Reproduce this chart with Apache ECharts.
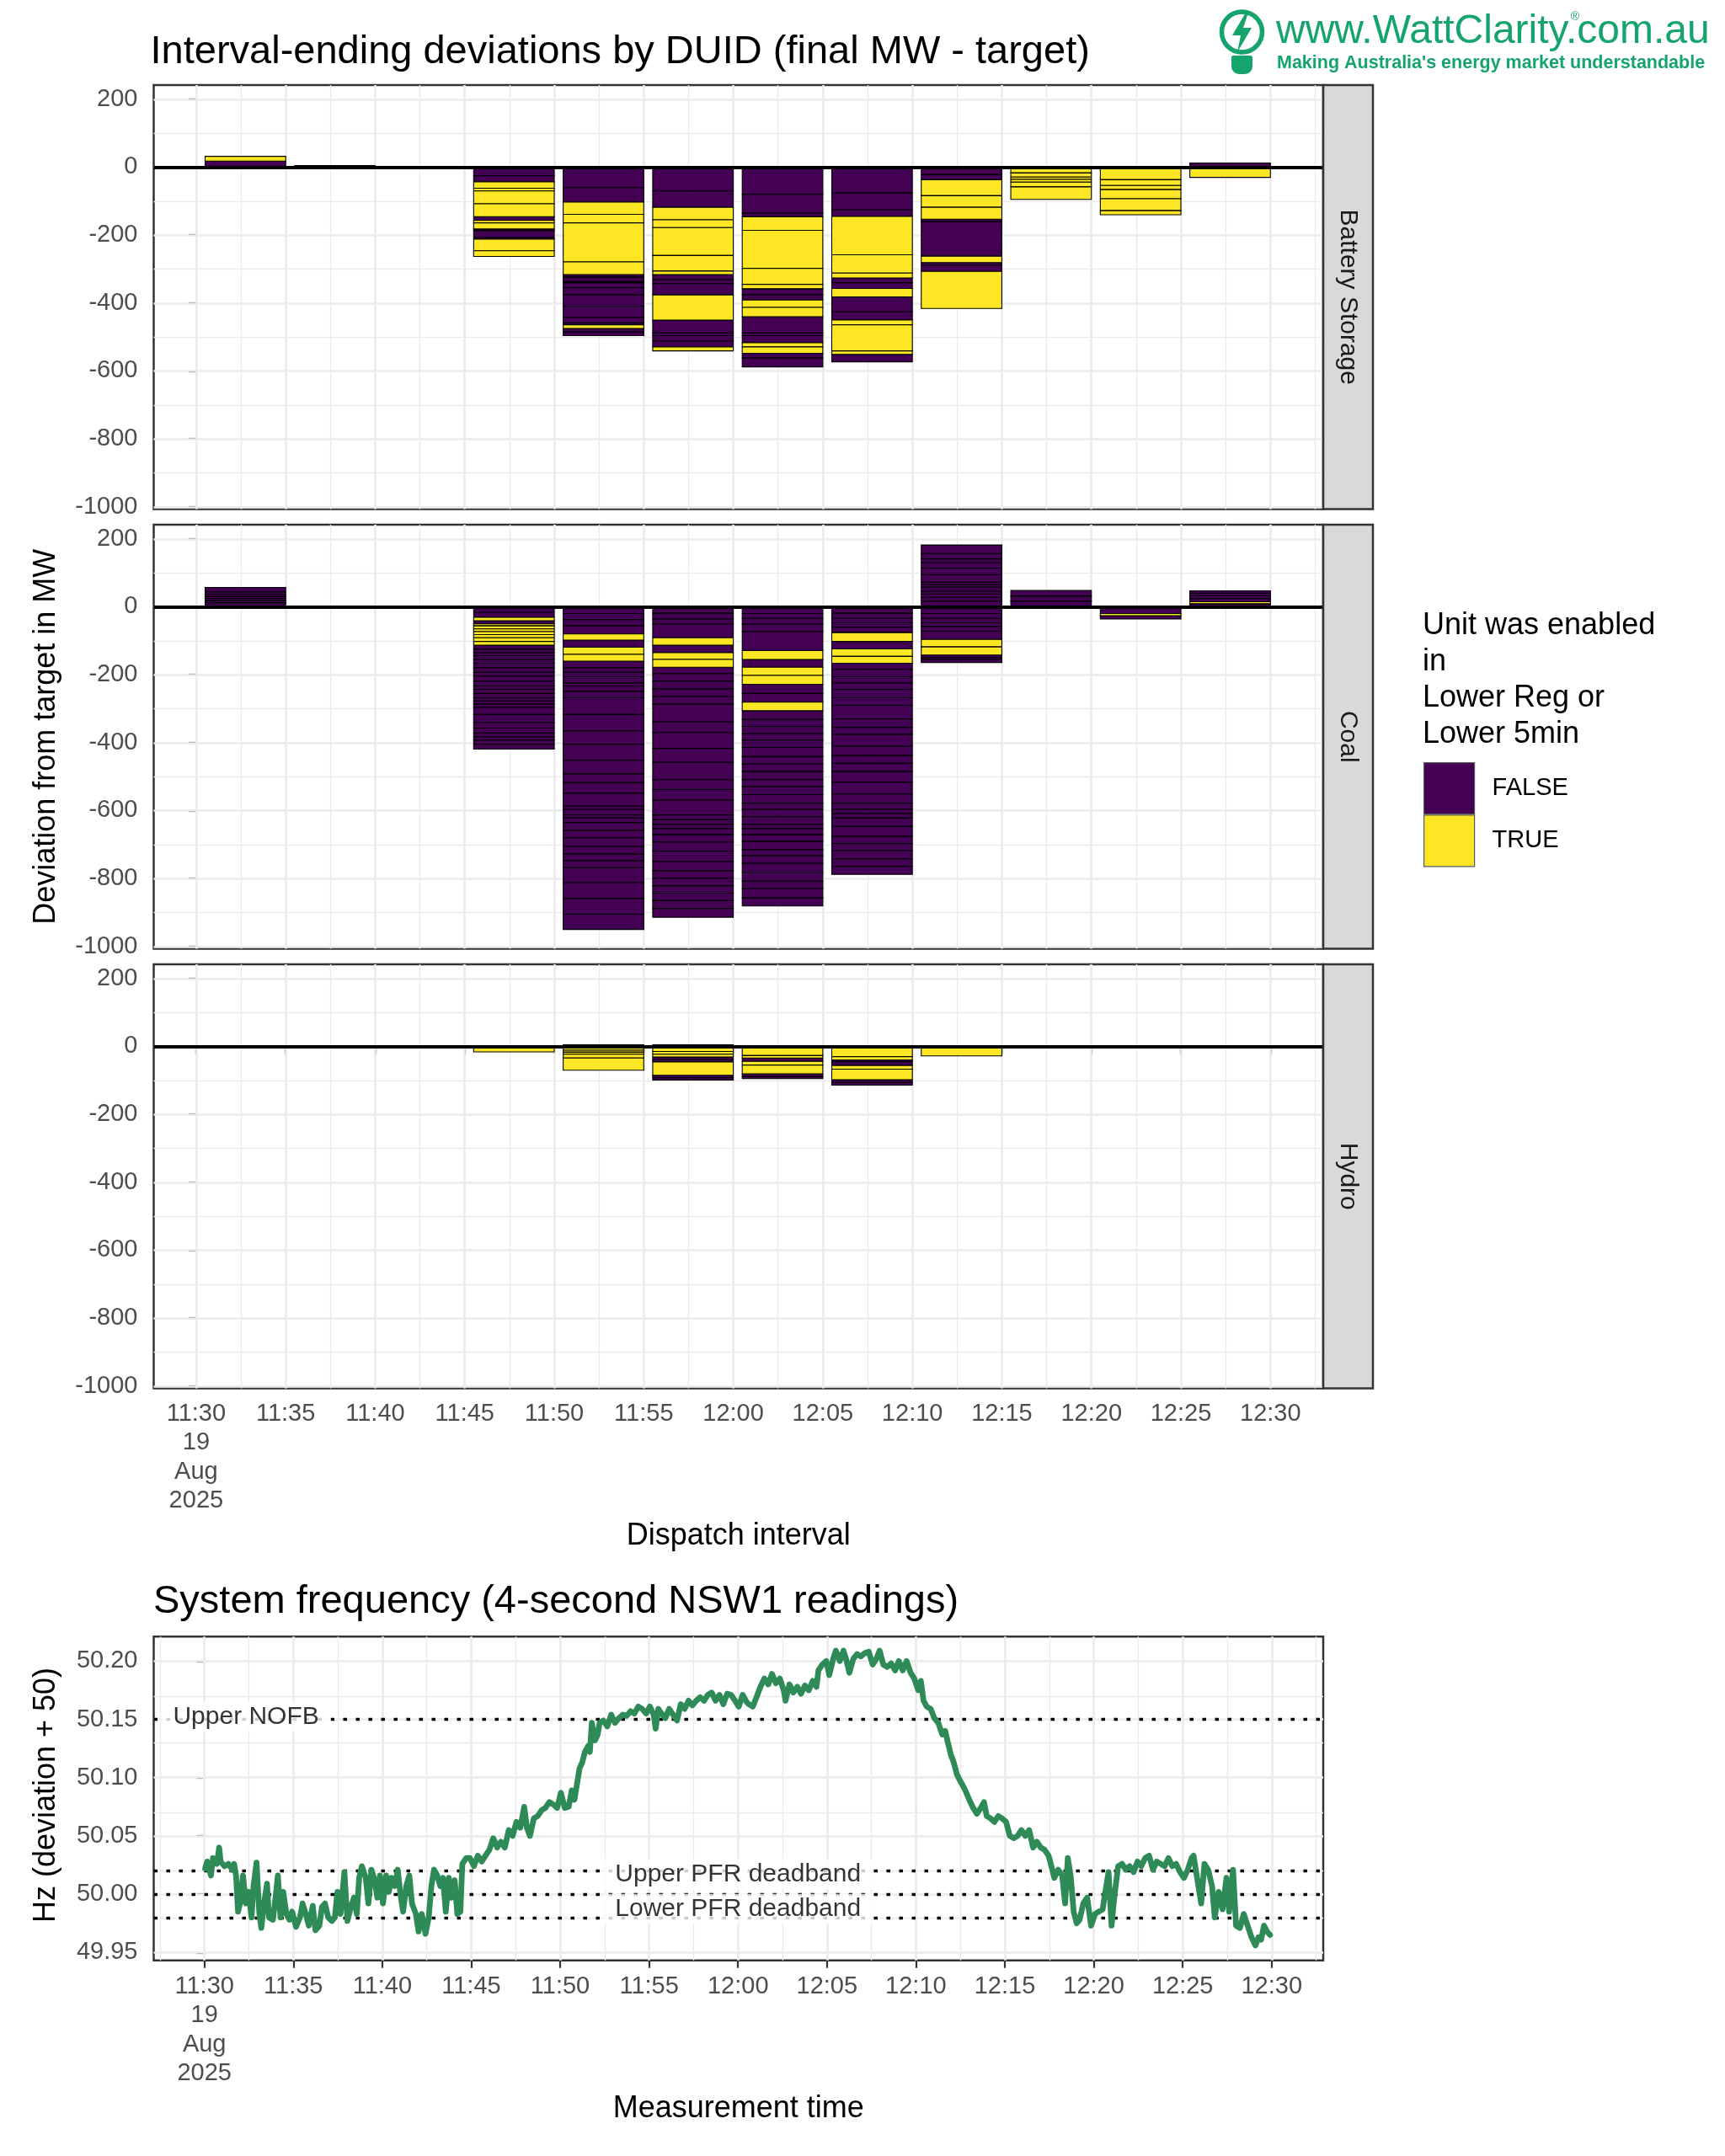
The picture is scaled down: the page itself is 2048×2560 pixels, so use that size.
<!DOCTYPE html>
<html><head><meta charset="utf-8">
<script src="https://cdn.jsdelivr.net/npm/echarts@6/dist/echarts.min.js"></script>
<style>html,body{margin:0;padding:0;background:#fff}#c{width:2048px;height:2560px}</style>
</head><body><div id="c"></div>
<script>
// ---------------- DATA ----------------
// dispatch intervals (minutes after 11:30)
const intervalStarts = [0, 5, 10, 15, 20, 25, 30, 35, 40, 45, 50, 55];
const intervalLabels = ['11:30','11:35','11:40','11:45','11:50','11:55','12:00','12:05','12:10','12:15','12:20','12:25'];
// per-DUID deviations (MW) per interval, [value, enabledFlag] (1 = TRUE, 0 = FALSE), listed outward from zero
const batterySegments = [
  [[18,0],[14,1]],
  [[5,0]],
  [[-4,0]],
  [[-25,0],[-18,0],[-19,1],[-8,1],[-38,1],[-38,1],[-11,0],[-7,1],[-18,1],[-5,0],[-20,0],[-5,0],[-34,1],[-17,1]],
  [[-60,0],[-43,0],[-36,1],[-25,1],[-115,1],[-37,1],[-8,0],[-13,0],[-3,1],[-15,0],[-21,0],[-33,0],[-33,0],[-17,0],[-5,0],[-11,1],[-10,0],[-11,0]],
  [[-70,0],[-48,0],[-37,1],[-23,1],[-82,1],[-46,1],[-10,1],[-15,0],[-12,0],[-33,0],[-74,1],[-38,0],[-8,0],[-16,0],[-17,0],[-12,1]],
  [[-80,0],[-55,0],[-11,0],[-40,1],[-112,1],[-47,1],[-13,1],[-18,0],[-15,0],[-22,1],[-27,1],[-48,0],[-8,0],[-21,0],[-12,1],[-19,1],[-14,0],[-26,0]],
  [[-76,0],[-50,0],[-19,0],[-113,1],[-54,1],[-14,1],[-14,0],[-17,0],[-25,1],[-44,0],[-24,0],[-14,1],[-77,1],[-10,1],[-22,0]],
  [[-22,0],[-15,0],[-47,1],[-34,1],[-35,1],[-8,0],[-101,0],[-19,1],[-8,0],[-18,0],[-109,1]],
  [[-17,1],[-12,1],[-7,1],[-8,1],[-14,1],[-37,1]],
  [[-37,1],[-17,1],[-12,1],[-27,1],[-35,1],[-12,1]],
  [[12,0],[-30,1]]
];
const coalSegments = [
  [[12,0],[7,0],[6,0],[6,0],[6,0],[7,0],[13,0]],
  [],
  [],
  [[-16,0],[-15,0],[-10,1],[-9,0],[-6,1],[-9,1],[-8,1],[-9,1],[-9,1],[-11,1],[-11,1],[-12,0],[-10,0],[-9,0],[-11,0],[-11,0],[-14,0],[-13,0],[-11,0],[-15,0],[-14,0],[-10,0],[-12,0],[-13,0],[-9,0],[-9,0],[-10,0],[-21,0],[-24,0],[-16,0],[-15,0],[-11,0],[-9,0],[-13,0],[-14,0]],
  [[-20,0],[-18,0],[-18,0],[-24,0],[-18,1],[-21,0],[-21,1],[-20,1],[-20,0],[-13,0],[-13,0],[-18,0],[-9,0],[-16,0],[-19,0],[-49,0],[-48,0],[-40,0],[-47,0],[-40,0],[-26,0],[-31,0],[-38,0],[-10,0],[-16,0],[-9,0],[-13,0],[-23,0],[-22,0],[-26,0],[-22,0],[-20,0],[-20,0],[-44,0],[-47,0],[-46,0],[-45,0]],
  [[-19,0],[-17,0],[-15,0],[-40,0],[-22,1],[-22,0],[-20,1],[-23,1],[-19,0],[-22,0],[-23,0],[-22,0],[-22,0],[-53,0],[-31,0],[-47,0],[-41,0],[-51,0],[-29,0],[-31,0],[-44,0],[-14,0],[-13,0],[-13,0],[-18,0],[-22,0],[-26,0],[-31,0],[-27,0],[-22,0],[-22,0],[-22,0],[-22,0],[-23,0],[-26,0]],
  [[-20,0],[-14,0],[-17,0],[-22,0],[-56,0],[-26,1],[-23,0],[-24,1],[-26,1],[-27,0],[-26,0],[-25,1],[-26,0],[-20,0],[-22,0],[-18,0],[-22,0],[-27,0],[-22,0],[-22,0],[-24,0],[-20,0],[-24,0],[-25,0],[-18,0],[-22,0],[-22,0],[-13,0],[-18,0],[-20,0],[-24,0],[-18,0],[-22,0],[-26,0],[-27,0],[-22,0],[-27,0],[-24,0]],
  [[-19,0],[-15,0],[-13,0],[-13,0],[-16,0],[-26,1],[-22,0],[-22,1],[-20,1],[-18,0],[-22,0],[-18,0],[-19,0],[-25,0],[-22,0],[-40,0],[-25,0],[-21,0],[-34,0],[-28,0],[-23,0],[-24,0],[-31,0],[-35,0],[-27,0],[-18,0],[-13,0],[-13,0],[-25,0],[-29,0],[-21,0],[-21,0],[-24,0],[-22,0],[-24,0]],
  [[17,0],[11,0],[9,0],[9,0],[12,0],[7,0],[8,0],[22,0],[19,0],[16,0],[11,0],[16,0],[25,0],
   [-20,0],[-14,0],[-13,0],[-11,0],[-14,0],[-24,0],[-22,1],[-24,1],[-7,0],[-6,0],[-9,0]],
  [[17,0],[15,0],[16,0]],
  [[-20,0],[-6,1],[-10,0]],
  [[9,0],[6,1],[9,0],[9,0],[7,0],[7,0]]
];
const hydroSegments = [
  [],
  [],
  [],
  [[-5,0],[-11,1]],
  [[5,0],[-11,1],[-6,1],[-6,1],[-11,1],[-36,1]],
  [[5,0],[-15,1],[-8,1],[-8,1],[-8,0],[-7,0],[-39,1],[-7,0],[-7,0]],
  [[-27,1],[-7,1],[-10,0],[-11,1],[-26,1],[-8,0],[-6,0]],
  [[-30,1],[-10,1],[-6,0],[-10,0],[-11,1],[-31,1],[-8,0],[-8,0]],
  [[-28,1]],
  [],
  [],
  []
];
const panelNames = ['Battery Storage', 'Coal', 'Hydro'];
const legendNames = ['FALSE', 'TRUE'];

// axis ticks
const xTickMinutes = [0, 5, 10, 15, 20, 25, 30, 35, 40, 45, 50, 55, 60];
const xTickLabels = ['11:30\n19\nAug\n2025','11:35','11:40','11:45','11:50','11:55','12:00','12:05','12:10','12:15','12:20','12:25','12:30'];
const mwTicks = [200, 0, -200, -400, -600, -800, -1000];
const hzTicks = [49.95, 50.00, 50.05, 50.10, 50.15, 50.20];

// reference frequency lines
const refLineValues = [50.15, 50.015, 50.00, 49.985];
const refLineNames = ['Upper NOFB', 'Upper PFR deadband', '', 'Lower PFR deadband'];

// NSW1 frequency readings [minutes after 11:30, Hz]
const freqReadings = [
[0.04,50.022],[0.15,50.028],[0.37,50.016],[0.48,50.031],[0.70,50.026],[0.83,50.040],[0.91,50.028],[1.13,50.024],[1.35,50.026],[1.57,50.021],
[1.67,50.026],[1.78,50.016],[1.89,49.985],[2.00,49.992],[2.17,50.016],[2.33,49.992],[2.48,50.002],[2.65,49.980],[2.76,50.007],[2.93,50.027],
[3.09,49.983],[3.20,49.971],[3.35,49.992],[3.52,50.009],[3.63,49.980],[3.85,49.978],[4.00,49.997],[4.13,50.016],[4.28,49.980],[4.43,50.002],
[4.61,49.983],[4.78,49.978],[4.93,49.985],[5.15,49.972],[5.37,49.980],[5.52,49.992],[5.70,49.983],[5.87,49.973],[6.09,49.990],[6.24,49.969],
[6.46,49.973],[6.61,49.989],[6.78,49.992],[6.96,49.980],[7.17,49.977],[7.33,49.980],[7.48,50.002],[7.65,49.983],[7.87,50.019],[8.04,49.977],
[8.20,49.987],[8.41,49.997],[8.57,49.983],[8.70,50.014],[8.85,50.024],[9.07,50.014],[9.22,49.992],[9.39,50.021],[9.57,50.012],[9.72,49.997],
[9.87,50.016],[10.04,49.992],[10.22,50.016],[10.37,50.002],[10.52,50.014],[10.70,50.007],[10.87,50.021],[11.02,50.000],[11.17,49.985],[11.35,50.007],
[11.52,50.016],[11.67,49.992],[11.89,49.983],[12.04,49.968],[12.22,49.983],[12.43,49.966],[12.61,49.980],[12.76,50.007],[12.91,50.021],[13.09,50.016],
[13.26,50.007],[13.41,50.014],[13.57,49.985],[13.74,50.014],[13.89,49.997],[14.07,50.012],[14.22,49.983],[14.39,49.985],[14.50,50.026],[14.72,50.031],
[14.93,50.031],[15.15,50.024],[15.37,50.033],[15.59,50.028],[15.80,50.033],[16.02,50.038],[16.24,50.048],[16.46,50.040],[16.67,50.045],[16.89,50.040],
[17.11,50.055],[17.33,50.050],[17.54,50.062],[17.76,50.057],[17.98,50.075],[18.13,50.057],[18.30,50.050],[18.52,50.065],[18.74,50.067],[18.96,50.072],
[19.17,50.074],[19.39,50.079],[19.61,50.077],[19.83,50.074],[20.04,50.087],[20.26,50.074],[20.48,50.075],[20.65,50.089],[20.80,50.081],[20.91,50.091],
[21.09,50.108],[21.24,50.113],[21.39,50.122],[21.57,50.127],[21.67,50.122],[21.78,50.147],[21.96,50.132],[22.11,50.137],[22.22,50.147],[22.43,50.149],
[22.65,50.144],[22.87,50.154],[23.09,50.147],[23.30,50.151],[23.52,50.154],[23.74,50.153],[23.96,50.157],[24.17,50.155],[24.39,50.161],[24.61,50.159],
[24.83,50.155],[25.04,50.161],[25.26,50.154],[25.37,50.142],[25.52,50.159],[25.70,50.155],[25.91,50.151],[26.13,50.159],[26.35,50.154],[26.57,50.149],
[26.78,50.163],[27.00,50.159],[27.22,50.166],[27.43,50.162],[27.65,50.166],[27.87,50.169],[28.09,50.166],[28.30,50.171],[28.52,50.173],[28.74,50.166],
[28.96,50.171],[29.17,50.163],[29.39,50.172],[29.61,50.171],[29.83,50.166],[30.04,50.161],[30.26,50.171],[30.48,50.165],[30.61,50.163],[30.83,50.161],
[31.04,50.169],[31.26,50.178],[31.48,50.185],[31.70,50.180],[31.91,50.189],[32.13,50.181],[32.35,50.185],[32.57,50.175],[32.67,50.166],[32.89,50.180],
[33.11,50.173],[33.33,50.178],[33.54,50.172],[33.76,50.179],[33.98,50.175],[34.20,50.183],[34.41,50.178],[34.52,50.192],[34.74,50.197],[34.96,50.200],
[35.13,50.188],[35.35,50.202],[35.50,50.209],[35.72,50.200],[35.93,50.209],[36.09,50.201],[36.26,50.190],[36.48,50.202],[36.70,50.206],[36.91,50.204],
[37.13,50.207],[37.35,50.208],[37.57,50.197],[37.78,50.202],[37.96,50.209],[38.17,50.197],[38.39,50.195],[38.61,50.198],[38.83,50.192],[39.04,50.200],
[39.26,50.192],[39.48,50.200],[39.70,50.190],[39.91,50.185],[40.13,50.175],[40.28,50.183],[40.43,50.166],[40.61,50.161],[40.83,50.159],[41.04,50.151],
[41.26,50.147],[41.48,50.137],[41.65,50.140],[41.80,50.130],[41.96,50.120],[42.13,50.113],[42.30,50.103],[42.46,50.098],[42.61,50.094],[42.78,50.089],
[43.00,50.081],[43.22,50.074],[43.43,50.069],[43.65,50.074],[43.83,50.079],[43.98,50.067],[44.20,50.065],[44.41,50.062],[44.63,50.067],[44.85,50.065],
[45.07,50.062],[45.28,50.050],[45.50,50.048],[45.72,50.050],[45.93,50.055],[46.15,50.050],[46.37,50.055],[46.59,50.040],[46.80,50.045],[47.02,50.040],
[47.24,50.038],[47.46,50.033],[47.67,50.021],[47.78,50.014],[48.00,50.021],[48.22,50.016],[48.39,49.992],[48.54,50.031],[48.70,50.016],[48.87,49.985],
[49.04,49.975],[49.20,49.978],[49.41,49.992],[49.63,49.997],[49.85,49.973],[50.07,49.983],[50.28,49.985],[50.50,49.987],[50.65,50.002],[50.83,50.019],
[51.00,49.973],[51.15,49.997],[51.37,50.024],[51.59,50.026],[51.80,50.021],[52.02,50.024],[52.24,50.019],[52.46,50.028],[52.67,50.024],[52.89,50.031],
[53.11,50.033],[53.33,50.021],[53.54,50.028],[53.76,50.026],[53.98,50.024],[54.20,50.031],[54.41,50.024],[54.63,50.026],[54.85,50.019],[55.07,50.014],
[55.28,50.021],[55.50,50.031],[55.61,50.033],[55.83,50.012],[56.04,49.992],[56.22,50.026],[56.43,50.021],[56.65,50.007],[56.80,49.980],[57.02,50.002],
[57.24,49.987],[57.46,50.014],[57.61,49.985],[57.83,50.021],[58.00,49.973],[58.22,49.971],[58.43,49.983],[58.65,49.973],[58.87,49.963],[59.09,49.956],
[59.26,49.963],[59.41,49.961],[59.57,49.973],[59.74,49.968],[59.91,49.965]
];

// ---------------- LAYOUT / STYLE ----------------
const FONT = "'Liberation Sans', Arial, sans-serif";
const FALSE_COLOR = '#440154', TRUE_COLOR = '#FDE725';
const LINE_GREEN = '#2E8B57', LOGO_GREEN = '#14A46C';
const GRID_COL = '#EBEBEB';
const PLOT_L = 182.5, PLOT_W = 1388.5;
const PANEL_TOPS = [101, 623, 1145], PANEL_H = 503.5;
const FREQ_TOP = 1943.3, FREQ_H = 384.4;
const STRIP_W = 59;
const BAR_CENTER_OFFSET = 2.75, BAR_WIDTH = 4.5;
const DEV_MIN = -1006.75, DEV_MAX = 241.75;
const X_MIN = -2.37, X_MAX = 62.95;
const FX_MIN = -2.85, FX_MAX = 62.9;
const HZ_MIN = 49.9432, HZ_MAX = 50.221;

function stackRects(segs) {
  const out = { F: [], T: [] };
  segs.forEach((list, i) => {
    let pos = 0, neg = 0;
    const c = intervalStarts[i] + BAR_CENTER_OFFSET;
    list.forEach(([v, f]) => {
      let y0, y1;
      if (v >= 0) { y0 = pos; y1 = pos + v; pos = y1; }
      else { y0 = neg; y1 = neg + v; neg = y1; }
      (f ? out.T : out.F).push([c, y0, y1]);
    });
  });
  return out;
}
function makeRender(color) {
  return function (params, api) {
    const c = api.value(0), y0 = api.value(1), y1 = api.value(2);
    const a = api.coord([c - BAR_WIDTH / 2, y0]);
    const b = api.coord([c + BAR_WIDTH / 2, y1]);
    return {
      type: 'rect',
      shape: { x: a[0], y: Math.min(a[1], b[1]), width: b[0] - a[0], height: Math.abs(b[1] - a[1]) },
      style: { fill: color, stroke: '#000', lineWidth: 1.1 }
    };
  };
}
function midpoints(arr, step) {
  const res = [];
  const s = arr.slice().sort((p, q) => p - q);
  res.push(s[0] - step / 2);
  s.forEach(v => res.push(v + step / 2));
  return res;
}
function gridLineData(xMajor, xMin, xMax, yMajor, yMinorStep, xMinorStep, yMin, yMax) {
  const d = [];
  const yMinor = midpoints(yMajor, yMinorStep).filter(v => v > yMin && v < yMax);
  const xMinor = midpoints(xMajor, xMinorStep).filter(v => v > xMin && v < xMax);
  yMinor.forEach(v => d.push({ yAxis: v, lineStyle: { color: GRID_COL, width: 1.4, type: 'solid' } }));
  xMinor.forEach(v => d.push({ xAxis: v, lineStyle: { color: GRID_COL, width: 1.4, type: 'solid' } }));
  yMajor.forEach(v => d.push({ yAxis: v, lineStyle: { color: GRID_COL, width: 2.7, type: 'solid' } }));
  xMajor.forEach(v => d.push({ xAxis: v, lineStyle: { color: GRID_COL, width: 2.7, type: 'solid' } }));
  return d;
}
const fmtX = v => { const i = xTickMinutes.findIndex(m => Math.abs(m - v) < 1e-6); return i >= 0 ? xTickLabels[i] : ''; };
const labelStyle = { fontSize: 29, color: '#4D4D4D', fontFamily: FONT };
const tickStyle = { length: 9, lineStyle: { color: '#333333', width: 2.2 } };

const grids = PANEL_TOPS.map(t => ({
  left: PLOT_L, top: t, width: PLOT_W, height: PANEL_H, show: true, backgroundColor: '#fff',
  borderColor: '#333333', borderWidth: 2.5, containLabel: false, outerBoundsMode: 'none'
}));
grids.push({ left: PLOT_L, top: FREQ_TOP, width: PLOT_W, height: FREQ_H, show: true, backgroundColor: '#fff',
  borderColor: '#333333', borderWidth: 2.5, containLabel: false, outerBoundsMode: 'none' });

const xAxes = [0, 1, 2].map(i => ({
  type: 'value', gridIndex: i, min: X_MIN, max: X_MAX,
  splitLine: { show: false }, axisLine: { show: false },
  axisTick: Object.assign({ show: i === 2, customValues: xTickMinutes }, tickStyle),
  axisLabel: Object.assign({ show: i === 2, customValues: xTickMinutes, formatter: fmtX, lineHeight: 34.5, margin: 13 }, labelStyle)
}));
xAxes.push({
  type: 'value', gridIndex: 3, min: FX_MIN, max: FX_MAX,
  splitLine: { show: false }, axisLine: { show: false },
  axisTick: Object.assign({ show: true, customValues: xTickMinutes }, tickStyle),
  axisLabel: Object.assign({ show: true, customValues: xTickMinutes, formatter: fmtX, lineHeight: 34.5, margin: 14 }, labelStyle)
});
const yAxes = [0, 1, 2].map(i => ({
  type: 'value', gridIndex: i, min: DEV_MIN, max: DEV_MAX,
  splitLine: { show: false }, axisLine: { show: false },
  axisTick: Object.assign({ show: true, customValues: mwTicks }, tickStyle),
  axisLabel: Object.assign({ show: true, customValues: mwTicks, formatter: v => String(Math.round(v)), margin: 19 }, labelStyle)
}));
yAxes.push({
  type: 'value', gridIndex: 3, min: HZ_MIN, max: HZ_MAX,
  splitLine: { show: false }, axisLine: { show: false },
  axisTick: Object.assign({ show: true, customValues: hzTicks }, tickStyle),
  axisLabel: Object.assign({ show: true, customValues: hzTicks, formatter: v => v.toFixed(2), margin: 19 }, labelStyle)
});

const series = [];
[batterySegments, coalSegments, hydroSegments].forEach((segs, gi) => {
  const r = stackRects(segs);
  series.push({
    type: 'custom', name: 'FALSE', xAxisIndex: gi, yAxisIndex: gi, z: 2,
    itemStyle: { color: FALSE_COLOR }, dimensions: ['x', 'y0', 'y1'], encode: { x: 'x', y: ['y0', 'y1'] },
    renderItem: makeRender(FALSE_COLOR), data: r.F, silent: true,
    markLine: { silent: true, z: 1, symbol: ['none', 'none'], animation: false, label: { show: false },
      emphasis: { disabled: true },
      data: gridLineData(xTickMinutes, X_MIN, X_MAX, mwTicks, 200, 5, DEV_MIN, DEV_MAX) }
  });
  series.push({
    type: 'custom', name: 'TRUE', xAxisIndex: gi, yAxisIndex: gi, z: 2,
    itemStyle: { color: TRUE_COLOR }, dimensions: ['x', 'y0', 'y1'], encode: { x: 'x', y: ['y0', 'y1'] },
    renderItem: makeRender(TRUE_COLOR), data: r.T, silent: true,
    markLine: { silent: true, z: 6, symbol: ['none', 'none'], animation: false, label: { show: false },
      emphasis: { disabled: true },
      data: [{ yAxis: 0, lineStyle: { color: '#000', width: 3.8, type: 'solid' } }] }
  });
});
const refMark = refLineValues.map(v => ({ yAxis: v, lineStyle: { color: '#000', width: 3.3, type: [4.5, 10.5] } }));
series.push({
  type: 'line', name: 'freq', xAxisIndex: 3, yAxisIndex: 3, z: 3, data: freqReadings,
  showSymbol: false, symbol: 'none', clip: false, silent: true,
  lineStyle: { color: LINE_GREEN, width: 6.8, join: 'round', cap: 'round' },
  markLine: { silent: true, z: 1, symbol: ['none', 'none'], animation: false, label: { show: false },
    emphasis: { disabled: true },
    data: gridLineData(xTickMinutes, FX_MIN, FX_MAX, hzTicks, 0.05, 5, HZ_MIN, HZ_MAX).concat(refMark) }
});
const refLabelX = [2.34, 30, null, 30];
series.push({
  type: 'scatter', name: 'refLabels', xAxisIndex: 3, yAxisIndex: 3, z: 5, silent: true,
  symbol: 'rect', symbolSize: 1, itemStyle: { color: 'rgba(0,0,0,0)' },
  label: { show: true, position: 'inside', formatter: '{b}', fontSize: 30, color: '#000', fontFamily: FONT,
    backgroundColor: '#fff', padding: [3, 14], offset: [0, -3] },
  data: refLineNames.map((n, i) => ({ name: n, value: [refLabelX[i], refLineValues[i]] })).filter(d => d.name)
});

// graphics: strips, axis titles, legend title, logo
const graphics = [];
PANEL_TOPS.forEach((t, i) => {
  graphics.push({ type: 'rect', silent: true, shape: { x: PLOT_L + PLOT_W, y: t, width: STRIP_W, height: PANEL_H },
    style: { fill: '#D9D9D9', stroke: '#333333', lineWidth: 2.5 }, z: 10 });
  graphics.push({ type: 'text', silent: true, x: PLOT_L + PLOT_W + STRIP_W / 2, y: t + PANEL_H / 2, rotation: -Math.PI / 2, z: 11,
    style: { text: panelNames[i], fontSize: 30, fontFamily: FONT, fill: '#1A1A1A', align: 'center', verticalAlign: 'middle' } });
});
graphics.push({ type: 'text', silent: true, x: 55, y: (PANEL_TOPS[0] + PANEL_TOPS[2] + PANEL_H) / 2, rotation: Math.PI / 2,
  style: { text: 'Deviation from target in MW', fontSize: 36, fontFamily: FONT, fill: '#000', align: 'center', verticalAlign: 'middle' } });
graphics.push({ type: 'text', silent: true, x: 55, y: FREQ_TOP + FREQ_H / 2 - 4, rotation: Math.PI / 2,
  style: { text: 'Hz (deviation + 50)', fontSize: 36, fontFamily: FONT, fill: '#000', align: 'center', verticalAlign: 'middle' } });
graphics.push({ type: 'text', silent: true, x: PLOT_L + PLOT_W / 2, y: 1824,
  style: { text: 'Dispatch interval', fontSize: 36, fontFamily: FONT, fill: '#000', align: 'center', verticalAlign: 'middle' } });
graphics.push({ type: 'text', silent: true, x: PLOT_L + PLOT_W / 2, y: 2504,
  style: { text: 'Measurement time', fontSize: 36, fontFamily: FONT, fill: '#000', align: 'center', verticalAlign: 'middle' } });
graphics.push({ type: 'text', silent: true, x: 1689, y: 721,
  style: { text: 'Unit was enabled\nin\nLower Reg or\nLower 5min', fontSize: 36, lineHeight: 43.3, fontFamily: FONT, fill: '#000', align: 'left', verticalAlign: 'top' } });
// logo
graphics.push({ type: 'circle', silent: true, shape: { cx: 1474.5, cy: 38, r: 24 }, style: { fill: 'none', stroke: LOGO_GREEN, lineWidth: 5.5 } });
graphics.push({ type: 'rect', silent: true, shape: { x: 1462, y: 66, width: 25, height: 22, r: [2, 2, 9, 9] }, style: { fill: LOGO_GREEN } });
graphics.push({ type: 'polygon', silent: true, shape: { points: [[1479, 15], [1463, 42], [1473, 42], [1469, 62], [1486, 33], [1476, 33], [1482, 15]] }, style: { fill: LOGO_GREEN } });
graphics.push({ type: 'text', silent: true, x: 1515, y: 38,
  style: { text: 'www.WattClarity.com.au', fontSize: 48, fontFamily: FONT, fill: LOGO_GREEN, align: 'left', verticalAlign: 'middle' } });
graphics.push({ type: 'text', silent: true, x: 1870, y: 20,
  style: { text: '®', fontSize: 14, fontFamily: FONT, fill: LOGO_GREEN, align: 'center', verticalAlign: 'middle' } });
graphics.push({ type: 'text', silent: true, x: 1516, y: 75,
  style: { text: "Making Australia's energy market understandable", fontSize: 21.5, fontWeight: 'bold', fontFamily: FONT, fill: LOGO_GREEN, align: 'left', verticalAlign: 'middle' } });

const option = {
  animation: false,
  backgroundColor: '#fff',
  textStyle: { fontFamily: FONT },
  title: [
    { text: 'Interval-ending deviations by DUID (final MW - target)', left: 178.5, top: 38.5, padding: 0,
      textStyle: { fontSize: 47, fontWeight: 'normal', color: '#000', fontFamily: FONT } },
    { text: 'System frequency (4-second NSW1 readings)', left: 182, top: 1878.5, padding: 0,
      textStyle: { fontSize: 47, fontWeight: 'normal', color: '#000', fontFamily: FONT } }
  ],
  legend: {
    data: legendNames, orient: 'vertical', left: 1690, top: 905, padding: 0,
    itemWidth: 60, itemHeight: 61, itemGap: 0, icon: 'rect', selectedMode: false,
    itemStyle: { borderColor: '#595959', borderWidth: 1.2 },
    textStyle: { fontSize: 29, color: '#000', fontFamily: FONT, padding: [0, 0, 0, 16] }
  },
  grid: grids,
  xAxis: xAxes,
  yAxis: yAxes,
  series: series,
  graphic: graphics
};
const chart = echarts.init(document.getElementById('c'), null, { renderer: 'canvas', width: 2048, height: 2560 });
chart.setOption(option);
</script>
</body></html>
